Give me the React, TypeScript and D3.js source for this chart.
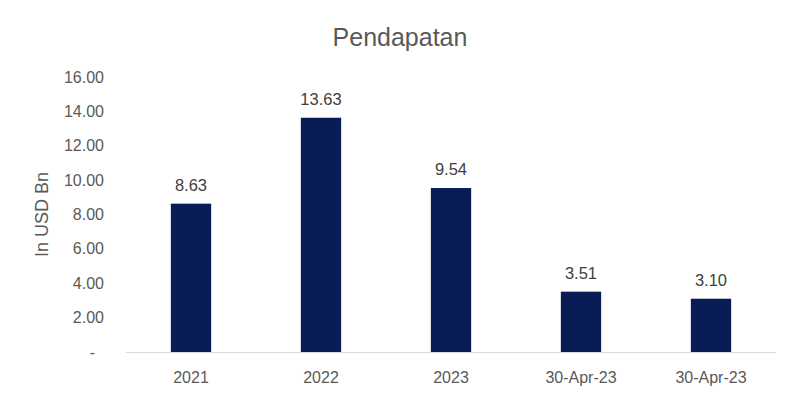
import React, { useRef, useEffect } from 'react'
import * as d3 from 'd3'

const categories = ['2021', '2022', '2023', '30-Apr-23', '30-Apr-23']
const revenue = [8.63, 13.63, 9.54, 3.51, 3.1]
const yTicks = [0, 2, 4, 6, 8, 10, 12, 14, 16]

const App = () => {
	const svgRef = useRef<SVGSVGElement>(null)

	useEffect(() => {
		const svg = d3.select(svgRef.current)
		svg.selectAll('*').remove()

		const width = 799
		const height = 399
		const margin = { top: 77, right: 23, bottom: 47, left: 126 }
		const font = 'Liberation Sans, Arial, sans-serif'
		const textColor = '#595959'

		const x = d3
			.scaleBand()
			.domain(categories.map((d, i) => String(i)))
			.range([margin.left, width - margin.right])
			.paddingInner(0.69)
			.paddingOuter(0.345)

		const y = d3
			.scaleLinear()
			.domain([0, 16])
			.range([height - margin.bottom, margin.top])

		// tytul
		svg
			.append('text')
			.attr('x', 400)
			.attr('y', 46)
			.attr('text-anchor', 'middle')
			.attr('font-family', font)
			.attr('font-size', 25)
			.attr('fill', textColor)
			.text('Pendapatan')

		// os Y - tylko etykiety
		const yAxis = svg.append('g').attr('transform', `translate(${margin.left}, 0)`)
		yAxis
			.selectAll('text')
			.data(yTicks)
			.enter()
			.append('text')
			.attr('x', d => (d === 0 ? -31 : -22))
			.attr('y', d => y(d) + 5.5)
			.attr('text-anchor', 'end')
			.attr('font-family', font)
			.attr('font-size', 16)
			.attr('fill', textColor)
			.text(d => (d === 0 ? '-' : d.toFixed(2)))

		svg
			.append('text')
			.attr('transform', `translate(48, ${(y(0) + y(16)) / 2}) rotate(-90)`)
			.attr('text-anchor', 'middle')
			.attr('font-family', font)
			.attr('font-size', 18)
			.attr('fill', textColor)
			.text('In USD Bn')

		// slupki
		svg
			.selectAll('.bar')
			.data(revenue)
			.enter()
			.append('rect')
			.attr('class', 'bar')
			.attr('x', (d, i) => x(String(i)) as number)
			.attr('y', d => y(d))
			.attr('width', x.bandwidth())
			.attr('height', d => y(0) - y(d))
			.attr('fill', '#0a1c55')

		// etykiety wartosci
		svg
			.selectAll('.val')
			.data(revenue)
			.enter()
			.append('text')
			.attr('class', 'val')
			.attr('x', (d, i) => (x(String(i)) as number) + x.bandwidth() / 2)
			.attr('y', d => y(d) - 13)
			.attr('text-anchor', 'middle')
			.attr('font-family', font)
			.attr('font-size', 16.5)
			.attr('fill', '#404040')
			.text(d => d.toFixed(2))

		// os X
		svg
			.append('line')
			.attr('x1', margin.left)
			.attr('x2', width - margin.right)
			.attr('y1', y(0) + 0.5)
			.attr('y2', y(0) + 0.5)
			.attr('stroke', '#d9d9d9')
			.attr('stroke-width', 1)

		svg
			.selectAll('.cat')
			.data(categories)
			.enter()
			.append('text')
			.attr('class', 'cat')
			.attr('x', (d, i) => (x(String(i)) as number) + x.bandwidth() / 2)
			.attr('y', y(0) + 31)
			.attr('text-anchor', 'middle')
			.attr('font-family', font)
			.attr('font-size', 16)
			.attr('fill', textColor)
			.text(d => d)
	}, [])

	return (
		<svg
			ref={svgRef}
			width={799}
			height={399}
			style={{ position: 'absolute', left: 0, top: 0, background: '#fff' }}
		></svg>
	)
}

export default App
